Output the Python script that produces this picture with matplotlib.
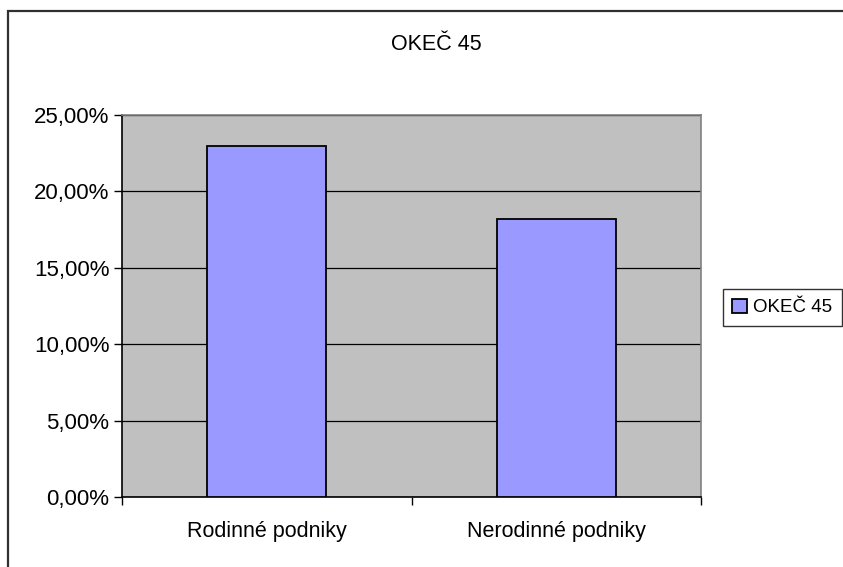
import matplotlib
matplotlib.use("Agg")
import matplotlib.pyplot as plt
from matplotlib.patches import Rectangle
from matplotlib.ticker import FuncFormatter, MultipleLocator

plt.rcParams['font.family'] = ['Liberation Sans', 'DejaVu Sans']

categories = ["Rodinné podniky", "Nerodinné podniky"]
values = [23.0, 18.2]
series_name = "OKEČ 45"
title = "OKEČ 45"

W, H = 843, 567
fig = plt.figure(figsize=(W / 100, H / 100), dpi=100)
fig.patch.set_facecolor("white")

# outer chart border
fig.patches.append(Rectangle((8 / W, -0.1), 1.2, (H - 11) / H + 0.1,
                             transform=fig.transFigure, fill=False,
                             edgecolor="#303030", linewidth=1.6, zorder=0))

ax = fig.add_axes([122 / W, (H - 497) / H, (701 - 122) / W, (497 - 115) / H])
ax.set_facecolor("#C0C0C0")

x = list(range(len(categories)))
bars = ax.bar(x, values, width=0.41, color="#9999FF", edgecolor="black",
              linewidth=1.3, zorder=3, label=series_name)

ax.set_xlim(-0.5, len(categories) - 0.5)
ax.set_ylim(0, 25)
ax.yaxis.set_major_locator(MultipleLocator(5))
ax.yaxis.set_major_formatter(FuncFormatter(lambda v, p: f"{v:.2f}%".replace(".", ",")))
ax.grid(axis="y", color="black", linewidth=0.9, zorder=1)

ax.set_xticks([-0.5, 0.5, 1.5])
ax.set_xticklabels(["", "", ""])
ax.set_xticks(x, minor=True)
ax.set_xticklabels(categories, minor=True)
ax.tick_params(axis="x", which="minor", length=0, pad=17, labelsize=15.5)
ax.tick_params(axis="x", which="major", length=6, width=1, color="black", direction="out")
ax.tick_params(axis="y", length=6, width=1, color="black", direction="out", labelsize=16, pad=3)

for s in ["left", "bottom"]:
    ax.spines[s].set_color("black")
    ax.spines[s].set_linewidth(1.2)
for s in ["top", "right"]:
    ax.spines[s].set_color("#808080")
    ax.spines[s].set_linewidth(1.2)

fig.text(436 / W, (H - 45) / H, title, ha="center", va="center", fontsize=15.5)

leg = fig.legend(handles=[bars], labels=[series_name], loc="center left",
                 bbox_to_anchor=(723 / W, (H - 307.5) / H), frameon=True,
                 fancybox=False, edgecolor="black", fontsize=13.5,
                 handlelength=0.8, handleheight=0.8, handletextpad=0.3,
                 borderpad=0.5, borderaxespad=0)
leg.get_frame().set_linewidth(1.0)

fig.savefig("out.png", dpi=100)
